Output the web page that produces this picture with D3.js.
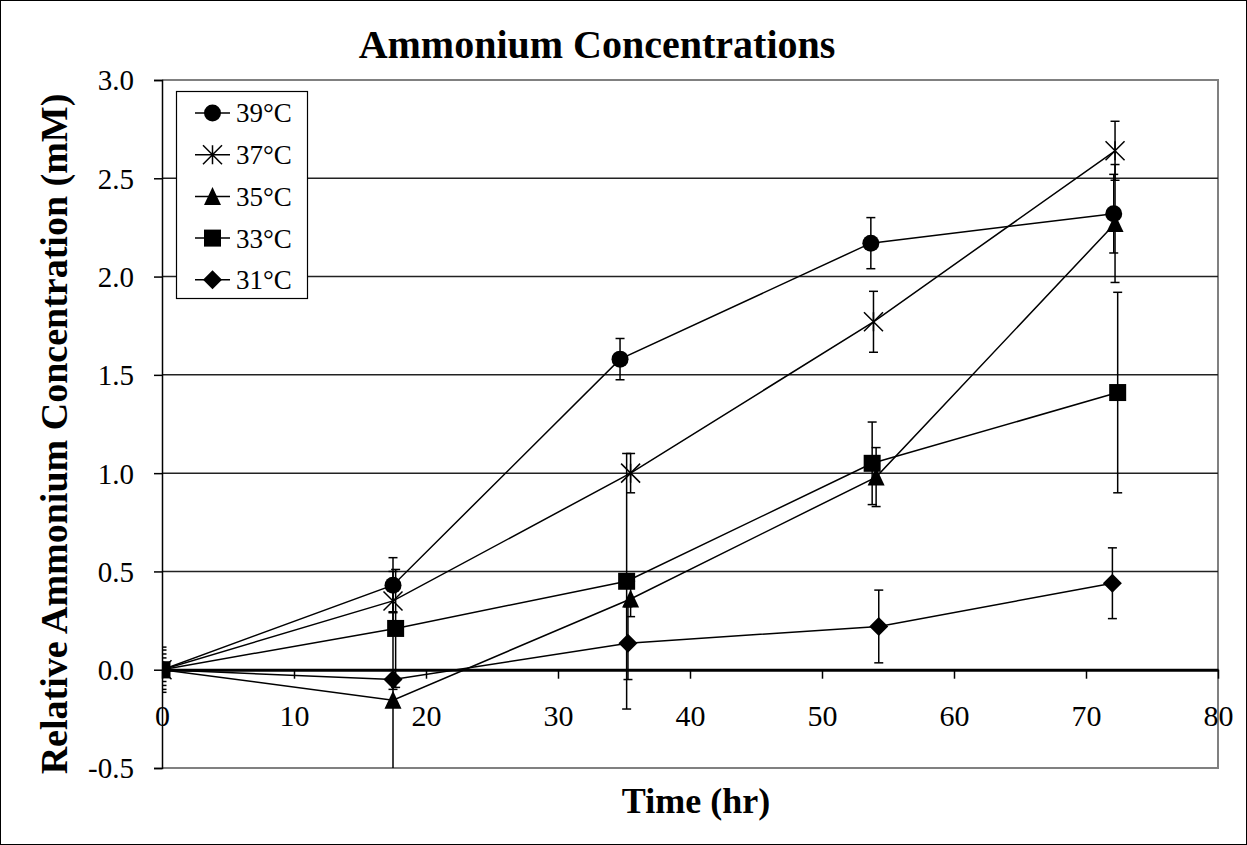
<!DOCTYPE html>
<html>
<head>
<meta charset="utf-8">
<script src="https://cdn.jsdelivr.net/npm/d3@7"></script>
<style>
  html, body { margin: 0; padding: 0; background: #fff; }
  svg { display: block; }
  text { font-family: "Liberation Serif", "Times New Roman", serif; fill: #000; }
</style>
</head>
<body>
<svg id="chart" width="1247" height="845"></svg>
<script>
// Ammonium concentration over time at five incubation temperatures
const seriesNames = ["39°C", "37°C", "35°C", "33°C", "31°C"];
const markerTypes = ["circle", "star", "triangle", "square", "diamond"];

const time39 = [0, 17.5, 34.7, 53.7, 72.1];
const value39 = [0, 0.43, 1.58, 2.17, 2.32];
const error39 = [0.06, 0.14, 0.105, 0.13, 0.2];

const time37 = [0, 17.5, 35.5, 53.9, 72.2];
const value37 = [0, 0.35, 1.0, 1.77, 2.64];
const error37 = [0.08, 0.15, 0.1, 0.155, 0.15];

const time35 = [0, 17.5, 35.5, 54.1, 72.2];
const value35 = [0, -0.155, 0.36, 0.98, 2.27];
const error35 = [0.115, 0.45, 0.09, 0.15, 0.3];

const time33 = [0, 17.7, 35.2, 53.8, 72.4];
const value33 = [0, 0.21, 0.45, 1.05, 1.41];
const error33 = [0.1, 0.3, 0.65, 0.21, 0.51];

const time31 = [0, 17.5, 35.3, 54.3, 72.0];
const value31 = [0, -0.05, 0.135, 0.22, 0.44];
const error31 = [0.03, 0.05, 0.185, 0.185, 0.18];

const xTicks = [0, 10, 20, 30, 40, 50, 60, 70, 80];
const yTicks = [-0.5, 0, 0.5, 1.0, 1.5, 2.0, 2.5, 3.0];

const series = [
  { name: seriesNames[0], marker: markerTypes[0], t: time39, v: value39, e: error39 },
  { name: seriesNames[1], marker: markerTypes[1], t: time37, v: value37, e: error37 },
  { name: seriesNames[2], marker: markerTypes[2], t: time35, v: value35, e: error35 },
  { name: seriesNames[3], marker: markerTypes[3], t: time33, v: value33, e: error33 },
  { name: seriesNames[4], marker: markerTypes[4], t: time31, v: value31, e: error31 }
].map(s => ({ ...s, points: s.t.map((t, i) => ({ t, v: s.v[i], e: s.e[i] })) }));

const W = 1247, H = 845;
const plot = { left: 162, right: 1218, top: 80, bottom: 768 };

const svg = d3.select("#chart");

// outer frame
svg.append("rect").attr("x", 0.5).attr("y", 0.5).attr("width", W - 1).attr("height", H - 1)
  .attr("fill", "#fff").attr("stroke", "#000").attr("stroke-width", 1);

const x = d3.scaleLinear().domain([0, 80]).range([plot.left, plot.right]);
const y = d3.scaleLinear().domain([-0.5, 3]).range([plot.bottom, plot.top]);

svg.append("defs").append("clipPath").attr("id", "plotClip")
  .append("rect").attr("x", plot.left).attr("y", plot.top)
  .attr("width", plot.right - plot.left).attr("height", plot.bottom - plot.top);

// plot area border (top, right, bottom)
svg.append("path")
  .attr("d", `M${plot.left},${plot.top}H${plot.right}V${plot.bottom}H${plot.left}`)
  .attr("fill", "none").attr("stroke", "#808080").attr("stroke-width", 2);

// horizontal gridlines
svg.append("g").selectAll("line")
  .data(yTicks.filter(d => d > 0 && d < 3))
  .join("line")
  .attr("x1", plot.left).attr("x2", plot.right)
  .attr("y1", d => y(d)).attr("y2", d => y(d))
  .attr("stroke", "#222").attr("stroke-width", 1.5);

// y axis with outward ticks
const fmt1 = d3.format(".1f");
const yAxis = d3.axisLeft(y).tickValues(yTicks)
  .tickFormat(d => d < 0 ? "-" + fmt1(-d) : fmt1(d))
  .tickSize(8).tickPadding(20);
const gy = svg.append("g").attr("transform", `translate(${plot.left},0)`).call(yAxis);
gy.select(".domain").attr("stroke", "#000").attr("stroke-width", 1.5);
gy.selectAll(".tick line").attr("stroke", "#000").attr("stroke-width", 1.5);
gy.selectAll(".tick text")
  .attr("font-family", "Liberation Serif, serif").attr("font-size", 29).attr("fill", "#000")
  .attr("dy", "0.34em");

// x axis along zero
const xAxis = d3.axisBottom(x).tickValues(xTicks).tickFormat(d3.format("d")).tickSize(9).tickPadding(26).tickSizeOuter(0);
const gx = svg.append("g").attr("transform", `translate(0,${y(0)})`).call(xAxis);
gx.select(".domain").attr("stroke", "#000").attr("stroke-width", 3);
gx.selectAll(".tick line").attr("stroke", "#000").attr("stroke-width", 1.5);
gx.selectAll(".tick text")
  .attr("font-family", "Liberation Serif, serif").attr("font-size", 30).attr("fill", "#000");

// markers
const MS = 8.5;
function drawMarker(g, type, cx, cy) {
  if (type === "circle") {
    g.append("circle").attr("cx", cx).attr("cy", cy).attr("r", MS).attr("fill", "#000");
  } else if (type === "square") {
    g.append("rect").attr("x", cx - MS).attr("y", cy - MS).attr("width", 2 * MS).attr("height", 2 * MS).attr("fill", "#000");
  } else if (type === "triangle") {
    g.append("path").attr("d", `M${cx},${cy - MS - 1}L${cx + MS},${cy + MS}L${cx - MS},${cy + MS}Z`).attr("fill", "#000");
  } else if (type === "diamond") {
    g.append("path").attr("d", `M${cx},${cy - MS - 1}L${cx + MS + 1},${cy}L${cx},${cy + MS + 1}L${cx - MS - 1},${cy}Z`).attr("fill", "#000");
  } else if (type === "star") {
    const r = MS + 1;
    g.append("path")
      .attr("d", `M${cx - r},${cy - r}L${cx + r},${cy + r}M${cx - r},${cy + r}L${cx + r},${cy - r}M${cx},${cy - r}L${cx},${cy + r}`)
      .attr("stroke", "#000").attr("stroke-width", 1.5).attr("fill", "none");
  }
}

const line = d3.line().x(d => x(d.t)).y(d => y(d.v));
const dataLayer = svg.append("g").attr("clip-path", "url(#plotClip)");

series.forEach(s => {
  const g = dataLayer.append("g");
  // error bars
  const cap = 4.5;
  s.points.forEach(p => {
    const x0 = x(p.t), yt = y(p.v + p.e), yb = y(p.v - p.e);
    g.append("line").attr("x1", x0).attr("x2", x0).attr("y1", yt).attr("y2", yb)
      .attr("stroke", "#000").attr("stroke-width", 1.5);
    [yt, yb].forEach(yy => g.append("line").attr("x1", x0 - cap).attr("x2", x0 + cap)
      .attr("y1", yy).attr("y2", yy).attr("stroke", "#000").attr("stroke-width", 1.5));
  });
  g.append("path").attr("d", line(s.points)).attr("fill", "none")
    .attr("stroke", "#000").attr("stroke-width", 1.5);
  s.points.forEach(p => drawMarker(g, s.marker, x(p.t), y(p.v)));
});

// legend
const leg = svg.append("g");
leg.append("rect").attr("x", 176.5).attr("y", 91.5).attr("width", 131).attr("height", 207)
  .attr("fill", "#fff").attr("stroke", "#000").attr("stroke-width", 1.2);
series.forEach((s, i) => {
  const cy = 113 + i * 41.7;
  leg.append("line").attr("x1", 195).attr("x2", 230).attr("y1", cy).attr("y2", cy)
    .attr("stroke", "#000").attr("stroke-width", 1.5);
  drawMarker(leg, s.marker, 212.5, cy);
  leg.append("text").attr("x", 236).attr("y", cy).attr("dy", "0.35em")
    .attr("font-size", 27).text(s.name);
});

// titles
svg.append("text").attr("x", 597).attr("y", 58).attr("text-anchor", "middle")
  .attr("font-size", 40).attr("font-weight", "bold").text("Ammonium Concentrations");
svg.append("text").attr("x", 696).attr("y", 813).attr("text-anchor", "middle")
  .attr("font-size", 36).attr("font-weight", "bold").text("Time (hr)");
svg.append("text").attr("transform", "translate(67,434) rotate(-90)").attr("text-anchor", "middle")
  .attr("font-size", 38).attr("font-weight", "bold").text("Relative Ammonium Concentration (mM)");
</script>
</body>
</html>
